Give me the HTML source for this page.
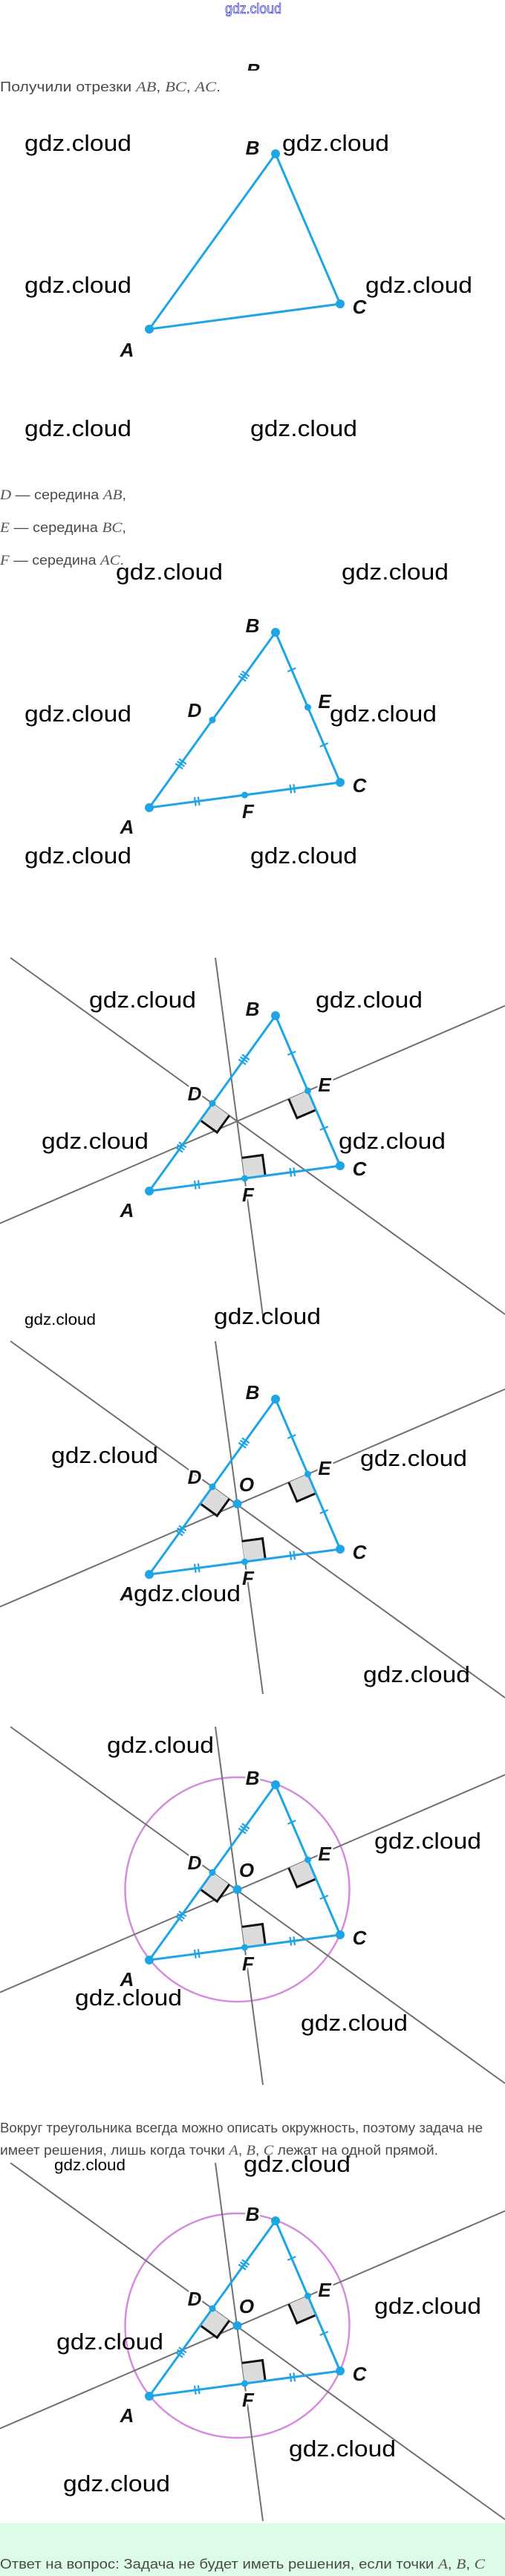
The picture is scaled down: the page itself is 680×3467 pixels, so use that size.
<!DOCTYPE html>
<html><head><meta charset="utf-8"><style>
html,body{margin:0;padding:0;background:#fff;}
svg{display:block;}
.wm{font-family:"Liberation Sans",sans-serif;font-size:31px;fill:#000;}
.tx{font-family:"Liberation Sans",sans-serif;font-size:18px;fill:#4a4a4a;}
.m{font-family:"Liberation Serif",serif;font-style:italic;font-size:19px;fill:#555;}
.lb{font-family:"Liberation Sans Narrow","Liberation Sans",sans-serif;font-weight:bold;font-style:italic;font-size:26px;fill:#111;text-anchor:middle;stroke:#fff;stroke-width:5px;paint-order:stroke;}
.gl{stroke:#707070;stroke-width:2;fill:none;}
.tri{stroke:#1ea5e6;stroke-width:3;fill:none;stroke-linejoin:round;}
.tk{stroke:#1ea5e6;stroke-width:2.2;}
.sq{fill:#dcdcdc;stroke:none;}
.sqb{fill:none;stroke:#111;stroke-width:3;}
.dt{fill:#1ea5e6;}
.cr{fill:none;stroke:#d78be0;stroke-width:2.5;}
</style></head><body>
<svg width="680" height="3467" viewBox="0 0 680 3467" xmlns="http://www.w3.org/2000/svg">
<defs><clipPath id="cb"><rect x="300" y="70" width="80" height="25"/></clipPath></defs>
<rect x="0" y="0" width="680" height="3467" fill="#fff"/>
<text x="341" y="18" text-anchor="middle" font-family="Liberation Sans,sans-serif" font-size="19" fill="#fff" stroke="#3a3acc" stroke-width="0.8" textLength="76" lengthAdjust="spacingAndGlyphs">gdz.cloud</text>
<text x="341" y="104" class="lb" clip-path="url(#cb)" style="stroke:none">B</text>
<text x="0" y="123" class="tx" textLength="297" lengthAdjust="spacingAndGlyphs">Получили отрезки <tspan class="m">AB</tspan>,  <tspan class="m">BC</tspan>,  <tspan class="m">AC</tspan>.</text>

<!-- Section 1 -->
<g transform="translate(0,207)">
<polygon class="tri" points="201,236 371,0 458,202"/>
<circle class="dt" cx="201" cy="236" r="6"/><circle class="dt" cx="371" cy="0" r="6"/><circle class="dt" cx="458" cy="202" r="6"/>
<text class="lb" x="340" y="1">B</text><text class="lb" x="484" y="215">C</text><text class="lb" x="171" y="273">A</text>
</g>
<g class="wm">
<text x="33" y="203" textLength="144" lengthAdjust="spacingAndGlyphs">gdz.cloud</text>
<text x="380" y="203" textLength="144" lengthAdjust="spacingAndGlyphs">gdz.cloud</text>
<text x="33" y="394" textLength="144" lengthAdjust="spacingAndGlyphs">gdz.cloud</text>
<text x="492" y="394" textLength="144" lengthAdjust="spacingAndGlyphs">gdz.cloud</text>
<text x="33" y="587" textLength="144" lengthAdjust="spacingAndGlyphs">gdz.cloud</text>
<text x="337" y="587" textLength="144" lengthAdjust="spacingAndGlyphs">gdz.cloud</text>
</g>

<text x="0" y="672" class="tx" textLength="170" lengthAdjust="spacingAndGlyphs"><tspan class="m">D</tspan> — середина <tspan class="m">AB</tspan>,</text>
<text x="0" y="716" class="tx" textLength="170" lengthAdjust="spacingAndGlyphs"><tspan class="m">E</tspan> — середина <tspan class="m">BC</tspan>,</text>
<text x="0" y="760" class="tx" textLength="167" lengthAdjust="spacingAndGlyphs"><tspan class="m">F</tspan> — середина <tspan class="m">AC</tspan>.</text>

<!-- Section 2 -->
<g transform="translate(0,851)">
<polygon class="tri" points="201,236 371,0 458,202"/>
<g class="tk">
<line x1="321.3" y1="58.7" x2="331.1" y2="65.7"/><line x1="323.6" y1="55.5" x2="333.4" y2="62.5"/><line x1="325.9" y1="52.3" x2="335.7" y2="59.3"/>
<line x1="236.3" y1="176.7" x2="246.1" y2="183.7"/><line x1="238.6" y1="173.5" x2="248.4" y2="180.5"/><line x1="240.9" y1="170.3" x2="250.7" y2="177.3"/>
<line x1="387.3" y1="52.9" x2="398.3" y2="48.1"/><line x1="430.8" y1="153.9" x2="441.8" y2="149.1"/>
<line x1="262" y1="221.9" x2="263.6" y2="233.7"/><line x1="266.9" y1="221.3" x2="268.5" y2="233.1"/>
<line x1="390.5" y1="204.9" x2="392.1" y2="216.7"/><line x1="395.4" y1="204.3" x2="397" y2="216.1"/>
</g>
<circle class="dt" cx="201" cy="236" r="6"/><circle class="dt" cx="371" cy="0" r="6"/><circle class="dt" cx="458" cy="202" r="6"/>
<circle class="dt" cx="286" cy="118" r="4.5"/><circle class="dt" cx="414.5" cy="101" r="4.5"/><circle class="dt" cx="329.5" cy="219" r="4.5"/>
<text class="lb" x="340" y="0">B</text><text class="lb" x="484" y="215">C</text><text class="lb" x="171" y="271">A</text>
<text class="lb" x="262" y="114">D</text><text class="lb" x="437" y="102">E</text><text class="lb" x="334" y="250">F</text>
</g>
<g class="wm">
<text x="156" y="780" textLength="144" lengthAdjust="spacingAndGlyphs">gdz.cloud</text>
<text x="460" y="780" textLength="144" lengthAdjust="spacingAndGlyphs">gdz.cloud</text>
<text x="33" y="971" textLength="144" lengthAdjust="spacingAndGlyphs">gdz.cloud</text>
<text x="444" y="971" textLength="144" lengthAdjust="spacingAndGlyphs">gdz.cloud</text>
<text x="33" y="1162" textLength="144" lengthAdjust="spacingAndGlyphs">gdz.cloud</text>
<text x="337" y="1162" textLength="144" lengthAdjust="spacingAndGlyphs">gdz.cloud</text>
</g>

<!-- Sections 3-6 -->
<g transform="translate(0,1367)">
<line class="gl" x1="14" y1="-78" x2="680" y2="402"/>
<line class="gl" x1="290" y1="-78" x2="354" y2="404"/>
<line class="gl" x1="0" y1="279.5" x2="680" y2="-13.3"/>
<polygon class="sq" points="286,118 269.6,140.7 292.3,157.1 308.7,134.4"/><polyline class="sqb" points="269.6,140.7 292.3,157.1 308.7,134.4"/>
<polygon class="sq" points="414.5,101 425.6,126.7 399.9,137.8 388.8,112.1"/><polyline class="sqb" points="425.6,126.7 399.9,137.8 388.8,112.1"/>
<polygon class="sq" points="329.5,219 357.2,215.3 353.5,187.6 325.8,191.3"/><polyline class="sqb" points="357.2,215.3 353.5,187.6 325.8,191.3"/>
<polygon class="tri" points="201,236 371,0 458,202"/>
<g class="tk">
<line x1="321.3" y1="58.7" x2="331.1" y2="65.7"/><line x1="323.6" y1="55.5" x2="333.4" y2="62.5"/><line x1="325.9" y1="52.3" x2="335.7" y2="59.3"/>
<line x1="236.3" y1="176.7" x2="246.1" y2="183.7"/><line x1="238.6" y1="173.5" x2="248.4" y2="180.5"/><line x1="240.9" y1="170.3" x2="250.7" y2="177.3"/>
<line x1="387.3" y1="52.9" x2="398.3" y2="48.1"/><line x1="430.8" y1="153.9" x2="441.8" y2="149.1"/>
<line x1="262" y1="221.9" x2="263.6" y2="233.7"/><line x1="266.9" y1="221.3" x2="268.5" y2="233.1"/>
<line x1="390.5" y1="204.9" x2="392.1" y2="216.7"/><line x1="395.4" y1="204.3" x2="397" y2="216.1"/>
</g>
<circle class="dt" cx="201" cy="236" r="6"/><circle class="dt" cx="371" cy="0" r="6"/><circle class="dt" cx="458" cy="202" r="6"/>
<circle class="dt" cx="286" cy="118" r="4.5"/><circle class="dt" cx="414.5" cy="101" r="4.5"/><circle class="dt" cx="329.5" cy="219" r="4.5"/>
<text class="lb" x="340" y="0">B</text><text class="lb" x="484" y="215">C</text><text class="lb" x="171" y="271">A</text>
<text class="lb" x="262" y="114">D</text><text class="lb" x="437" y="102">E</text><text class="lb" x="334" y="250">F</text>
</g>

<g transform="translate(0,1883)">
<line class="gl" x1="14" y1="-78" x2="680" y2="402"/>
<line class="gl" x1="290" y1="-78" x2="354" y2="397"/>
<line class="gl" x1="0" y1="279.5" x2="680" y2="-13.3"/>
<polygon class="sq" points="286,118 269.6,140.7 292.3,157.1 308.7,134.4"/><polyline class="sqb" points="269.6,140.7 292.3,157.1 308.7,134.4"/>
<polygon class="sq" points="414.5,101 425.6,126.7 399.9,137.8 388.8,112.1"/><polyline class="sqb" points="425.6,126.7 399.9,137.8 388.8,112.1"/>
<polygon class="sq" points="329.5,219 357.2,215.3 353.5,187.6 325.8,191.3"/><polyline class="sqb" points="357.2,215.3 353.5,187.6 325.8,191.3"/>
<polygon class="tri" points="201,236 371,0 458,202"/>
<g class="tk">
<line x1="321.3" y1="58.7" x2="331.1" y2="65.7"/><line x1="323.6" y1="55.5" x2="333.4" y2="62.5"/><line x1="325.9" y1="52.3" x2="335.7" y2="59.3"/>
<line x1="236.3" y1="176.7" x2="246.1" y2="183.7"/><line x1="238.6" y1="173.5" x2="248.4" y2="180.5"/><line x1="240.9" y1="170.3" x2="250.7" y2="177.3"/>
<line x1="387.3" y1="52.9" x2="398.3" y2="48.1"/><line x1="430.8" y1="153.9" x2="441.8" y2="149.1"/>
<line x1="262" y1="221.9" x2="263.6" y2="233.7"/><line x1="266.9" y1="221.3" x2="268.5" y2="233.1"/>
<line x1="390.5" y1="204.9" x2="392.1" y2="216.7"/><line x1="395.4" y1="204.3" x2="397" y2="216.1"/>
</g>
<circle class="dt" cx="201" cy="236" r="6"/><circle class="dt" cx="371" cy="0" r="6"/><circle class="dt" cx="458" cy="202" r="6"/>
<circle class="dt" cx="286" cy="118" r="4.5"/><circle class="dt" cx="414.5" cy="101" r="4.5"/><circle class="dt" cx="329.5" cy="219" r="4.5"/>
<circle class="dt" cx="319.5" cy="141" r="6"/>
<text class="lb" x="340" y="0">B</text><text class="lb" x="484" y="215">C</text><text class="lb" x="171" y="271">A</text>
<text class="lb" x="262" y="114">D</text><text class="lb" x="437" y="102">E</text><text class="lb" x="334" y="250">F</text>
<text class="lb" x="332" y="124">O</text>
</g>

<g transform="translate(0,2402)">
<circle class="cr" cx="319.5" cy="141" r="151"/>
<line class="gl" x1="14" y1="-78" x2="680" y2="402"/>
<line class="gl" x1="290" y1="-78" x2="354" y2="404"/>
<line class="gl" x1="0" y1="279.5" x2="680" y2="-13.3"/>
<polygon class="sq" points="286,118 269.6,140.7 292.3,157.1 308.7,134.4"/><polyline class="sqb" points="269.6,140.7 292.3,157.1 308.7,134.4"/>
<polygon class="sq" points="414.5,101 425.6,126.7 399.9,137.8 388.8,112.1"/><polyline class="sqb" points="425.6,126.7 399.9,137.8 388.8,112.1"/>
<polygon class="sq" points="329.5,219 357.2,215.3 353.5,187.6 325.8,191.3"/><polyline class="sqb" points="357.2,215.3 353.5,187.6 325.8,191.3"/>
<polygon class="tri" points="201,236 371,0 458,202"/>
<g class="tk">
<line x1="321.3" y1="58.7" x2="331.1" y2="65.7"/><line x1="323.6" y1="55.5" x2="333.4" y2="62.5"/><line x1="325.9" y1="52.3" x2="335.7" y2="59.3"/>
<line x1="236.3" y1="176.7" x2="246.1" y2="183.7"/><line x1="238.6" y1="173.5" x2="248.4" y2="180.5"/><line x1="240.9" y1="170.3" x2="250.7" y2="177.3"/>
<line x1="387.3" y1="52.9" x2="398.3" y2="48.1"/><line x1="430.8" y1="153.9" x2="441.8" y2="149.1"/>
<line x1="262" y1="221.9" x2="263.6" y2="233.7"/><line x1="266.9" y1="221.3" x2="268.5" y2="233.1"/>
<line x1="390.5" y1="204.9" x2="392.1" y2="216.7"/><line x1="395.4" y1="204.3" x2="397" y2="216.1"/>
</g>
<circle class="dt" cx="201" cy="236" r="6"/><circle class="dt" cx="371" cy="0" r="6"/><circle class="dt" cx="458" cy="202" r="6"/>
<circle class="dt" cx="286" cy="118" r="4.5"/><circle class="dt" cx="414.5" cy="101" r="4.5"/><circle class="dt" cx="329.5" cy="219" r="4.5"/>
<circle class="dt" cx="319.5" cy="141" r="6"/>
<text class="lb" x="340" y="0">B</text><text class="lb" x="484" y="215">C</text><text class="lb" x="171" y="271">A</text>
<text class="lb" x="262" y="114">D</text><text class="lb" x="437" y="102">E</text><text class="lb" x="334" y="250">F</text>
<text class="lb" x="332" y="124">O</text>
</g>

<g transform="translate(0,2989)">
<circle class="cr" cx="319.5" cy="141" r="151"/>
<line class="gl" x1="14" y1="-78" x2="680" y2="402"/>
<line class="gl" x1="290" y1="-78" x2="354" y2="404"/>
<line class="gl" x1="0" y1="279.5" x2="680" y2="-13.3"/>
<polygon class="sq" points="286,118 269.6,140.7 292.3,157.1 308.7,134.4"/><polyline class="sqb" points="269.6,140.7 292.3,157.1 308.7,134.4"/>
<polygon class="sq" points="414.5,101 425.6,126.7 399.9,137.8 388.8,112.1"/><polyline class="sqb" points="425.6,126.7 399.9,137.8 388.8,112.1"/>
<polygon class="sq" points="329.5,219 357.2,215.3 353.5,187.6 325.8,191.3"/><polyline class="sqb" points="357.2,215.3 353.5,187.6 325.8,191.3"/>
<polygon class="tri" points="201,236 371,0 458,202"/>
<g class="tk">
<line x1="321.3" y1="58.7" x2="331.1" y2="65.7"/><line x1="323.6" y1="55.5" x2="333.4" y2="62.5"/><line x1="325.9" y1="52.3" x2="335.7" y2="59.3"/>
<line x1="236.3" y1="176.7" x2="246.1" y2="183.7"/><line x1="238.6" y1="173.5" x2="248.4" y2="180.5"/><line x1="240.9" y1="170.3" x2="250.7" y2="177.3"/>
<line x1="387.3" y1="52.9" x2="398.3" y2="48.1"/><line x1="430.8" y1="153.9" x2="441.8" y2="149.1"/>
<line x1="262" y1="221.9" x2="263.6" y2="233.7"/><line x1="266.9" y1="221.3" x2="268.5" y2="233.1"/>
<line x1="390.5" y1="204.9" x2="392.1" y2="216.7"/><line x1="395.4" y1="204.3" x2="397" y2="216.1"/>
</g>
<circle class="dt" cx="201" cy="236" r="6"/><circle class="dt" cx="371" cy="0" r="6"/><circle class="dt" cx="458" cy="202" r="6"/>
<circle class="dt" cx="286" cy="118" r="4.5"/><circle class="dt" cx="414.5" cy="101" r="4.5"/><circle class="dt" cx="329.5" cy="219" r="4.5"/>
<circle class="dt" cx="319.5" cy="141" r="6"/>
<text class="lb" x="340" y="0">B</text><text class="lb" x="484" y="215">C</text><text class="lb" x="171" y="271">A</text>
<text class="lb" x="262" y="114">D</text><text class="lb" x="437" y="102">E</text><text class="lb" x="334" y="250">F</text>
<text class="lb" x="332" y="124">O</text>
</g>

<g class="wm">
<text x="120" y="1356" textLength="144" lengthAdjust="spacingAndGlyphs">gdz.cloud</text>
<text x="425" y="1356" textLength="144" lengthAdjust="spacingAndGlyphs">gdz.cloud</text>
<text x="56" y="1546" textLength="144" lengthAdjust="spacingAndGlyphs">gdz.cloud</text>
<text x="456" y="1546" textLength="144" lengthAdjust="spacingAndGlyphs">gdz.cloud</text>
<text x="33" y="1783" font-size="21" textLength="96" lengthAdjust="spacingAndGlyphs">gdz.cloud</text>
<text x="288" y="1782" textLength="144" lengthAdjust="spacingAndGlyphs">gdz.cloud</text>
<text x="69" y="1969" textLength="144" lengthAdjust="spacingAndGlyphs">gdz.cloud</text>
<text x="485" y="1973" textLength="144" lengthAdjust="spacingAndGlyphs">gdz.cloud</text>
<text x="180" y="2155" textLength="144" lengthAdjust="spacingAndGlyphs">gdz.cloud</text>
<text x="489" y="2264" textLength="144" lengthAdjust="spacingAndGlyphs">gdz.cloud</text>
<text x="144" y="2359" textLength="144" lengthAdjust="spacingAndGlyphs">gdz.cloud</text>
<text x="504" y="2488" textLength="144" lengthAdjust="spacingAndGlyphs">gdz.cloud</text>
<text x="101" y="2699" textLength="144" lengthAdjust="spacingAndGlyphs">gdz.cloud</text>
<text x="405" y="2733" textLength="144" lengthAdjust="spacingAndGlyphs">gdz.cloud</text>
<text x="73" y="2921" font-size="21" textLength="96" lengthAdjust="spacingAndGlyphs">gdz.cloud</text>
<text x="328" y="2923" textLength="144" lengthAdjust="spacingAndGlyphs">gdz.cloud</text>
<text x="504" y="3114" textLength="144" lengthAdjust="spacingAndGlyphs">gdz.cloud</text>
<text x="76" y="3162" textLength="144" lengthAdjust="spacingAndGlyphs">gdz.cloud</text>
<text x="389" y="3306" textLength="144" lengthAdjust="spacingAndGlyphs">gdz.cloud</text>
<text x="85" y="3353" textLength="144" lengthAdjust="spacingAndGlyphs">gdz.cloud</text>
</g>

<text x="0" y="2870" class="tx" textLength="650" lengthAdjust="spacingAndGlyphs">Вокруг треугольника всегда можно описать окружность, поэтому задача не</text>
<text x="0" y="2900" class="tx" textLength="590" lengthAdjust="spacingAndGlyphs">имеет решения, лишь когда точки <tspan class="m">A</tspan>,  <tspan class="m">B</tspan>,  <tspan class="m">C</tspan> лежат на одной прямой.</text>

<rect x="0" y="3396" width="680" height="71" fill="#dcfce8"/>
<text x="0" y="3457" class="tx" fill="#3a3a3a" textLength="653" lengthAdjust="spacingAndGlyphs">Ответ на вопрос: Задача не будет иметь решения, если точки <tspan class="m">A</tspan>,  <tspan class="m">B</tspan>,  <tspan class="m">C</tspan></text>
</svg>
</body></html>
